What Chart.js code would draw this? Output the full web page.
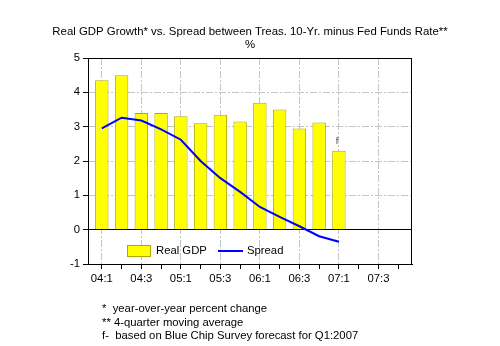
<!DOCTYPE html>
<html>
<head>
<meta charset="utf-8">
<script src="https://cdn.jsdelivr.net/npm/chart.js@4"></script>
<style>
  body { margin: 0; background: #fff; }
  canvas { display: block; }
</style>
</head>
<body>
<canvas id="gdpChart" width="500" height="346"></canvas>
<script>
// dados
const quarters = ['04:1', '04:2', '04:3', '04:4', '05:1', '05:2', '05:3', '05:4',
                  '06:1', '06:2', '06:3', '06:4', '07:1', '07:2', '07:3', '07:4'];
const realGdp = [4.35, 4.5, 3.4, 3.4, 3.3, 3.1, 3.35, 3.15, 3.7, 3.5, 2.95, 3.12, 2.3];
const spread = [2.95, 3.26, 3.18, 2.92, 2.62, 2.0, 1.5, 1.1, 0.66, 0.37, 0.1, -0.19, -0.35];
const yTicks = [-1, 0, 1, 2, 3, 4, 5];

const titleLines = ['Real GDP Growth* vs. Spread between Treas. 10-Yr. minus Fed Funds Rate**', '%'];
const footnotes = ['*  year-over-year percent change', '** 4-quarter moving average',
                   'f-  based on Blue Chip Survey forecast for Q1:2007'];

const FONT = 'Arial, "Liberation Sans", sans-serif';
const GRID = '#c4c4c4';
const DASH = [7, 2, 2, 2];

// titulo, notas, legenda e moldura
const extras = {
  id: 'extras',
  afterDraw(chart) {
    const ctx = chart.ctx;
    const area = chart.chartArea;
    const x = chart.scales.x, y = chart.scales.y;
    ctx.save();

    // moldura
    ctx.strokeStyle = '#000';
    ctx.lineWidth = 1;
    ctx.strokeRect(Math.round(area.left) + 0.5, Math.round(area.top) + 0.5,
                   Math.round(area.right - area.left) - 1, Math.round(area.bottom - area.top));

    ctx.fillStyle = '#000';
    ctx.font = '11.4px ' + FONT;
    ctx.textAlign = 'center';
    ctx.textBaseline = 'middle';
    ctx.fillText(titleLines[0], 250, 32);
    ctx.fillText(titleLines[1], 250, 45);

    ctx.font = '11.3px ' + FONT;
    ctx.textAlign = 'left';
    footnotes.forEach((t, i) => ctx.fillText(t, 102, 309 + i * 13.5));

    // "f" no ultimo trimestre
    const last = realGdp.length - 1;
    ctx.fillStyle = '#444';
    ctx.font = '9px ' + FONT;
    ctx.textAlign = 'center';
    ctx.fillText('f', x.getPixelForValue(last) - 2, y.getPixelForValue(realGdp[last]) - 9);

    // legenda dentro do grafico
    const gdpSet = chart.data.datasets[1], spSet = chart.data.datasets[0];
    const ly = area.bottom - 13;
    const bx = area.left + 39;
    ctx.fillStyle = gdpSet.backgroundColor;
    ctx.fillRect(bx, ly - 6, 24, 12);
    ctx.strokeStyle = gdpSet.borderColor;
    ctx.strokeRect(bx + 0.5, ly - 5.5, 23, 11);
    ctx.fillStyle = '#000';
    ctx.font = '11.3px ' + FONT;
    ctx.textAlign = 'left';
    ctx.fillText(gdpSet.label, bx + 29, ly);
    ctx.strokeStyle = spSet.borderColor;
    ctx.lineWidth = 2;
    ctx.beginPath();
    ctx.moveTo(area.left + 130, ly);
    ctx.lineTo(area.left + 155, ly);
    ctx.stroke();
    ctx.fillText(spSet.label, area.left + 159, ly);
    ctx.restore();
  }
};

const ctx = document.getElementById('gdpChart').getContext('2d');
new Chart(ctx, {
  type: 'bar',
  data: {
    datasets: [{
      type: 'line',
      label: 'Spread',
      data: spread.map((v, i) => ({ x: i, y: v })),
      borderColor: '#0000ff',
      borderWidth: 2,
      pointRadius: 0,
      tension: 0,
      order: 0
    }, {
      type: 'bar',
      label: 'Real GDP',
      data: realGdp.map((v, i) => ({ x: i, y: v })),
      backgroundColor: '#ffff00',
      borderColor: '#b0aa00',
      borderWidth: 1,
      barPercentage: 0.68,
      categoryPercentage: 1,
      order: 1
    }]
  },
  options: {
    responsive: false,
    animation: false,
    layout: { padding: { left: 58, right: 88, top: 58, bottom: 52 } },
    plugins: {
      legend: { display: false },
      tooltip: { enabled: false }
    },
    scales: {
      x: {
        type: 'linear',
        offset: false,
        min: -0.7,
        max: quarters.length - 0.3,
        afterBuildTicks: s => { s.ticks = quarters.map((q, i) => ({ value: i })); },
        afterFit: s => { s.height = 30; },
        ticks: {
          autoSkip: false,
          maxRotation: 0,
          padding: 3,
          color: '#000',
          font: { family: FONT, size: 11.3 },
          callback: v => (v % 2 === 0 ? quarters[v] : '')
        },
        grid: {
          offset: false,
          color: c => (c.index % 2 === 0 ? GRID : 'rgba(0,0,0,0)'),
          tickColor: '#000',
          tickLength: 5
        },
        border: {
          color: '#000',
          dash: c => (c.tick ? DASH : [])
        }
      },
      y: {
        min: -1,
        max: 5,
        afterBuildTicks: s => { s.ticks = yTicks.map(v => ({ value: v })); },
        afterFit: s => { s.width = 30; },
        ticks: {
          padding: 3,
          color: '#000',
          font: { family: FONT, size: 11.3 }
        },
        grid: {
          color: c => (c.tick && c.tick.value === 0 ? '#000' :
                       (c.tick && (c.tick.value === 5 || c.tick.value === -1) ? 'rgba(0,0,0,0)' : GRID)),
          tickColor: '#000',
          tickLength: 5
        },
        border: {
          color: '#000',
          dash: c => (c.tick && c.tick.value !== 0 ? DASH : [])
        }
      }
    }
  },
  plugins: [extras]
});
</script>
</body>
</html>
